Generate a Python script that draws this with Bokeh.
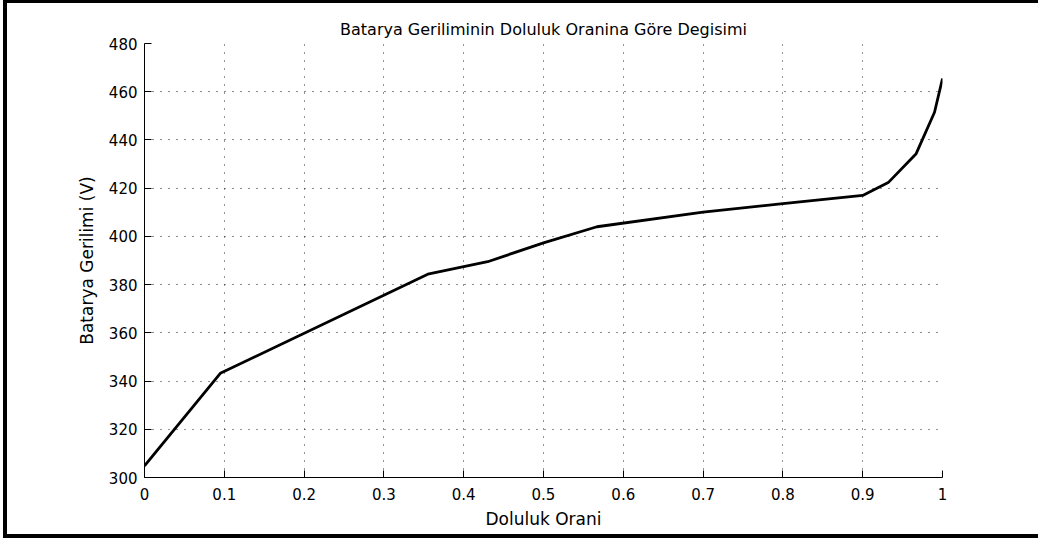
from bokeh.plotting import figure
from bokeh.models import Range1d, FixedTicker
from bokeh.embed import file_html
from bokeh.resources import INLINE

# Battery voltage versus state of charge
soc = [0.0, 0.095, 0.355, 0.43, 0.5, 0.567, 0.7, 0.8, 0.9, 0.932, 0.967, 0.99, 1.0]
voltage = [304.8, 343.2, 384.3, 389.5, 397.3, 404.0, 410.1, 413.6, 417.0, 422.3, 434.3, 451.5, 465.5]

x_ticks = [0, 0.1, 0.2, 0.3, 0.4, 0.5, 0.6, 0.7, 0.8, 0.9, 1]
x_tick_labels = ["0", "0.1", "0.2", "0.3", "0.4", "0.5", "0.6", "0.7", "0.8", "0.9", "1"]
y_ticks = [300, 320, 340, 360, 380, 400, 420, 440, 460, 480]

FONT = "DejaVu Sans"

p = figure(
    title="Batarya Geriliminin Doluluk Oranina Göre Degisimi",
    frame_width=798, frame_height=434,
    min_border_left=137, min_border_right=96,
    min_border_top=40, min_border_bottom=57,
    x_range=Range1d(0, 1), y_range=Range1d(300, 480),
    output_backend="svg", toolbar_location=None,
)
p.styles = {
    "margin-left": "3px",
    "border-top": "3px solid black",
    "border-left": "4px solid black",
    "border-bottom": "4px solid black",
}
p.outline_line_color = None
p.background_fill_color = "white"
p.border_fill_color = "white"

p.title.align = "center"
p.title.text_font = FONT
p.title.text_font_size = "16px"
p.title.text_font_style = "normal"
p.title.text_color = "black"

p.line(soc, voltage, line_width=2.8, line_color="black")

p.xaxis.ticker = FixedTicker(ticks=x_ticks)
p.xaxis.major_label_overrides = dict(zip(x_ticks, x_tick_labels))
p.yaxis.ticker = FixedTicker(ticks=y_ticks)
p.xgrid.ticker = FixedTicker(ticks=x_ticks)
p.ygrid.ticker = FixedTicker(ticks=y_ticks)

for g in (p.xgrid, p.ygrid):
    g.grid_line_color = "black"
    g.grid_line_alpha = 0.85
    g.grid_line_width = 1
    g.grid_line_dash = "1 7"

p.xaxis.axis_label = "Doluluk Orani"
p.yaxis.axis_label = "Batarya Gerilimi (V)"
for ax in (p.xaxis, p.yaxis):
    ax.axis_line_color = "black"
    ax.axis_line_width = 1
    ax.major_tick_line_color = "black"
    ax.major_tick_in = 7
    ax.major_tick_out = 0
    ax.minor_tick_line_color = None
    ax.major_label_text_font = FONT
    ax.major_label_text_font_size = "15px"
    ax.major_label_text_color = "black"
    ax.axis_label_text_font = FONT
    ax.axis_label_text_font_size = "17px"
    ax.axis_label_text_font_style = "normal"
    ax.axis_label_text_color = "black"
p.xaxis.major_label_standoff = 10
p.yaxis.major_label_standoff = 7
p.xaxis.axis_label_standoff = 6
p.yaxis.axis_label_standoff = 9

open("out.html", "w").write(file_html(p, INLINE))
